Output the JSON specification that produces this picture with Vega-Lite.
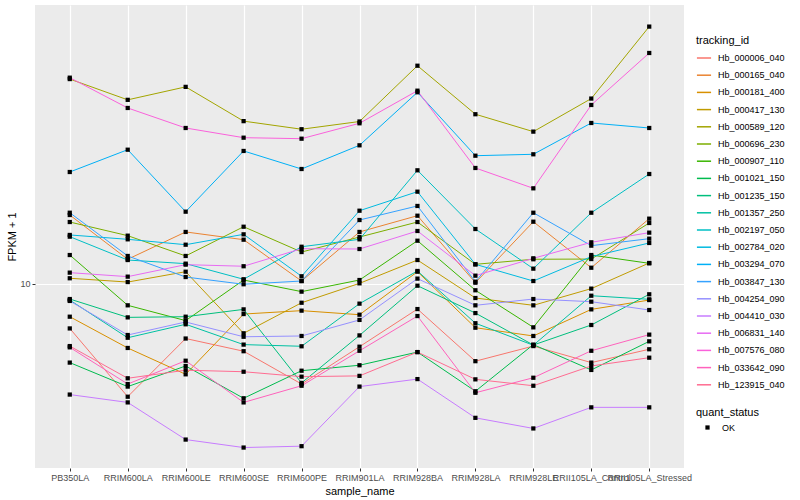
{
  "$schema": "https://vega.github.io/schema/vega-lite/v6.json",
  "width": 649,
  "height": 463,
  "autosize": {"type": "none"},
  "padding": {"left": 35, "top": 5, "right": 116, "bottom": 32},
  "background": "white",
  "config": {
    "font": "Liberation Sans",
    "view": {"fill": "#EBEBEB", "stroke": null},
    "axis": {
      "domain": false,
      "grid": true,
      "gridColor": "white",
      "gridWidth": 1.2,
      "tickColor": "#333333",
      "tickSize": 3,
      "tickWidth": 1,
      "labelColor": "#4D4D4D",
      "labelFontSize": 9,
      "labelPadding": 2,
      "titleFontSize": 11,
      "titleColor": "black",
      "titleFontWeight": "normal"
    },
    "legend": {
      "titleFontSize": 11,
      "titleFontWeight": "normal",
      "titleColor": "black",
      "labelFontSize": 9,
      "labelColor": "black",
      "padding": 0
    }
  },
  "datasets": {
    "fpkm": [
      {"tracking_id":"Hb_000006_040","sample_name":"PB350LA","fpkm":7.11,"quant_status":"OK"},
      {"tracking_id":"Hb_000006_040","sample_name":"RRIM600LA","fpkm":4.21,"quant_status":"OK"},
      {"tracking_id":"Hb_000006_040","sample_name":"RRIM600LE","fpkm":6.58,"quant_status":"OK"},
      {"tracking_id":"Hb_000006_040","sample_name":"RRIM600SE","fpkm":5.97,"quant_status":"OK"},
      {"tracking_id":"Hb_000006_040","sample_name":"RRIM600PE","fpkm":4.64,"quant_status":"OK"},
      {"tracking_id":"Hb_000006_040","sample_name":"RRIM901LA","fpkm":6.18,"quant_status":"OK"},
      {"tracking_id":"Hb_000006_040","sample_name":"RRIM928BA","fpkm":8.25,"quant_status":"OK"},
      {"tracking_id":"Hb_000006_040","sample_name":"RRIM928LA","fpkm":5.53,"quant_status":"OK"},
      {"tracking_id":"Hb_000006_040","sample_name":"RRIM928LE","fpkm":6.21,"quant_status":"OK"},
      {"tracking_id":"Hb_000006_040","sample_name":"RRII105LA_Control","fpkm":5.47,"quant_status":"OK"},
      {"tracking_id":"Hb_000006_040","sample_name":"RRII105LA_Stressed","fpkm":6.06,"quant_status":"OK"},
      {"tracking_id":"Hb_000165_040","sample_name":"PB350LA","fpkm":16.98,"quant_status":"OK"},
      {"tracking_id":"Hb_000165_040","sample_name":"RRIM600LA","fpkm":12.09,"quant_status":"OK"},
      {"tracking_id":"Hb_000165_040","sample_name":"RRIM600LE","fpkm":14.91,"quant_status":"OK"},
      {"tracking_id":"Hb_000165_040","sample_name":"RRIM600SE","fpkm":14.05,"quant_status":"OK"},
      {"tracking_id":"Hb_000165_040","sample_name":"RRIM600PE","fpkm":10.23,"quant_status":"OK"},
      {"tracking_id":"Hb_000165_040","sample_name":"RRIM901LA","fpkm":14.91,"quant_status":"OK"},
      {"tracking_id":"Hb_000165_040","sample_name":"RRIM928BA","fpkm":16.89,"quant_status":"OK"},
      {"tracking_id":"Hb_000165_040","sample_name":"RRIM928LA","fpkm":10.10,"quant_status":"OK"},
      {"tracking_id":"Hb_000165_040","sample_name":"RRIM928LE","fpkm":16.13,"quant_status":"OK"},
      {"tracking_id":"Hb_000165_040","sample_name":"RRII105LA_Control","fpkm":11.33,"quant_status":"OK"},
      {"tracking_id":"Hb_000165_040","sample_name":"RRII105LA_Stressed","fpkm":16.51,"quant_status":"OK"},
      {"tracking_id":"Hb_000181_400","sample_name":"PB350LA","fpkm":7.78,"quant_status":"OK"},
      {"tracking_id":"Hb_000181_400","sample_name":"RRIM600LA","fpkm":6.12,"quant_status":"OK"},
      {"tracking_id":"Hb_000181_400","sample_name":"RRIM600LE","fpkm":5.00,"quant_status":"OK"},
      {"tracking_id":"Hb_000181_400","sample_name":"RRIM600SE","fpkm":7.94,"quant_status":"OK"},
      {"tracking_id":"Hb_000181_400","sample_name":"RRIM600PE","fpkm":8.15,"quant_status":"OK"},
      {"tracking_id":"Hb_000181_400","sample_name":"RRIM901LA","fpkm":7.90,"quant_status":"OK"},
      {"tracking_id":"Hb_000181_400","sample_name":"RRIM928BA","fpkm":10.99,"quant_status":"OK"},
      {"tracking_id":"Hb_000181_400","sample_name":"RRIM928LA","fpkm":7.15,"quant_status":"OK"},
      {"tracking_id":"Hb_000181_400","sample_name":"RRIM928LE","fpkm":6.71,"quant_status":"OK"},
      {"tracking_id":"Hb_000181_400","sample_name":"RRII105LA_Control","fpkm":8.23,"quant_status":"OK"},
      {"tracking_id":"Hb_000181_400","sample_name":"RRII105LA_Stressed","fpkm":8.84,"quant_status":"OK"},
      {"tracking_id":"Hb_000417_130","sample_name":"PB350LA","fpkm":10.45,"quant_status":"OK"},
      {"tracking_id":"Hb_000417_130","sample_name":"RRIM600LA","fpkm":10.15,"quant_status":"OK"},
      {"tracking_id":"Hb_000417_130","sample_name":"RRIM600LE","fpkm":10.99,"quant_status":"OK"},
      {"tracking_id":"Hb_000417_130","sample_name":"RRIM600SE","fpkm":6.85,"quant_status":"OK"},
      {"tracking_id":"Hb_000417_130","sample_name":"RRIM600PE","fpkm":8.66,"quant_status":"OK"},
      {"tracking_id":"Hb_000417_130","sample_name":"RRIM901LA","fpkm":10.05,"quant_status":"OK"},
      {"tracking_id":"Hb_000417_130","sample_name":"RRIM928BA","fpkm":12.02,"quant_status":"OK"},
      {"tracking_id":"Hb_000417_130","sample_name":"RRIM928LA","fpkm":8.98,"quant_status":"OK"},
      {"tracking_id":"Hb_000417_130","sample_name":"RRIM928LE","fpkm":8.49,"quant_status":"OK"},
      {"tracking_id":"Hb_000417_130","sample_name":"RRII105LA_Control","fpkm":9.65,"quant_status":"OK"},
      {"tracking_id":"Hb_000417_130","sample_name":"RRII105LA_Stressed","fpkm":11.75,"quant_status":"OK"},
      {"tracking_id":"Hb_000589_120","sample_name":"PB350LA","fpkm":48.2,"quant_status":"OK"},
      {"tracking_id":"Hb_000589_120","sample_name":"RRIM600LA","fpkm":41.1,"quant_status":"OK"},
      {"tracking_id":"Hb_000589_120","sample_name":"RRIM600LE","fpkm":45.4,"quant_status":"OK"},
      {"tracking_id":"Hb_000589_120","sample_name":"RRIM600SE","fpkm":34.9,"quant_status":"OK"},
      {"tracking_id":"Hb_000589_120","sample_name":"RRIM600PE","fpkm":32.8,"quant_status":"OK"},
      {"tracking_id":"Hb_000589_120","sample_name":"RRIM901LA","fpkm":34.8,"quant_status":"OK"},
      {"tracking_id":"Hb_000589_120","sample_name":"RRIM928BA","fpkm":53.4,"quant_status":"OK"},
      {"tracking_id":"Hb_000589_120","sample_name":"RRIM928LA","fpkm":36.8,"quant_status":"OK"},
      {"tracking_id":"Hb_000589_120","sample_name":"RRIM928LE","fpkm":32.2,"quant_status":"OK"},
      {"tracking_id":"Hb_000589_120","sample_name":"RRII105LA_Control","fpkm":41.5,"quant_status":"OK"},
      {"tracking_id":"Hb_000589_120","sample_name":"RRII105LA_Stressed","fpkm":72.1,"quant_status":"OK"},
      {"tracking_id":"Hb_000696_230","sample_name":"PB350LA","fpkm":16.09,"quant_status":"OK"},
      {"tracking_id":"Hb_000696_230","sample_name":"RRIM600LA","fpkm":14.49,"quant_status":"OK"},
      {"tracking_id":"Hb_000696_230","sample_name":"RRIM600LE","fpkm":12.40,"quant_status":"OK"},
      {"tracking_id":"Hb_000696_230","sample_name":"RRIM600SE","fpkm":15.52,"quant_status":"OK"},
      {"tracking_id":"Hb_000696_230","sample_name":"RRIM600PE","fpkm":12.78,"quant_status":"OK"},
      {"tracking_id":"Hb_000696_230","sample_name":"RRIM901LA","fpkm":14.34,"quant_status":"OK"},
      {"tracking_id":"Hb_000696_230","sample_name":"RRIM928BA","fpkm":16.09,"quant_status":"OK"},
      {"tracking_id":"Hb_000696_230","sample_name":"RRIM928LA","fpkm":11.63,"quant_status":"OK"},
      {"tracking_id":"Hb_000696_230","sample_name":"RRIM928LE","fpkm":12.09,"quant_status":"OK"},
      {"tracking_id":"Hb_000696_230","sample_name":"RRII105LA_Control","fpkm":12.11,"quant_status":"OK"},
      {"tracking_id":"Hb_000696_230","sample_name":"RRII105LA_Stressed","fpkm":15.97,"quant_status":"OK"},
      {"tracking_id":"Hb_000907_110","sample_name":"PB350LA","fpkm":12.49,"quant_status":"OK"},
      {"tracking_id":"Hb_000907_110","sample_name":"RRIM600LA","fpkm":8.49,"quant_status":"OK"},
      {"tracking_id":"Hb_000907_110","sample_name":"RRIM600LE","fpkm":7.55,"quant_status":"OK"},
      {"tracking_id":"Hb_000907_110","sample_name":"RRIM600SE","fpkm":10.31,"quant_status":"OK"},
      {"tracking_id":"Hb_000907_110","sample_name":"RRIM600PE","fpkm":9.43,"quant_status":"OK"},
      {"tracking_id":"Hb_000907_110","sample_name":"RRIM901LA","fpkm":10.31,"quant_status":"OK"},
      {"tracking_id":"Hb_000907_110","sample_name":"RRIM928BA","fpkm":13.94,"quant_status":"OK"},
      {"tracking_id":"Hb_000907_110","sample_name":"RRIM928LA","fpkm":9.53,"quant_status":"OK"},
      {"tracking_id":"Hb_000907_110","sample_name":"RRIM928LE","fpkm":7.17,"quant_status":"OK"},
      {"tracking_id":"Hb_000907_110","sample_name":"RRII105LA_Control","fpkm":12.49,"quant_status":"OK"},
      {"tracking_id":"Hb_000907_110","sample_name":"RRII105LA_Stressed","fpkm":11.72,"quant_status":"OK"},
      {"tracking_id":"Hb_001021_150","sample_name":"PB350LA","fpkm":5.47,"quant_status":"OK"},
      {"tracking_id":"Hb_001021_150","sample_name":"RRIM600LA","fpkm":4.55,"quant_status":"OK"},
      {"tracking_id":"Hb_001021_150","sample_name":"RRIM600LE","fpkm":5.33,"quant_status":"OK"},
      {"tracking_id":"Hb_001021_150","sample_name":"RRIM600SE","fpkm":4.16,"quant_status":"OK"},
      {"tracking_id":"Hb_001021_150","sample_name":"RRIM600PE","fpkm":5.14,"quant_status":"OK"},
      {"tracking_id":"Hb_001021_150","sample_name":"RRIM901LA","fpkm":5.36,"quant_status":"OK"},
      {"tracking_id":"Hb_001021_150","sample_name":"RRIM928BA","fpkm":5.93,"quant_status":"OK"},
      {"tracking_id":"Hb_001021_150","sample_name":"RRIM928LA","fpkm":4.39,"quant_status":"OK"},
      {"tracking_id":"Hb_001021_150","sample_name":"RRIM928LE","fpkm":6.28,"quant_status":"OK"},
      {"tracking_id":"Hb_001021_150","sample_name":"RRII105LA_Control","fpkm":5.17,"quant_status":"OK"},
      {"tracking_id":"Hb_001021_150","sample_name":"RRII105LA_Stressed","fpkm":6.44,"quant_status":"OK"},
      {"tracking_id":"Hb_001235_150","sample_name":"PB350LA","fpkm":8.91,"quant_status":"OK"},
      {"tracking_id":"Hb_001235_150","sample_name":"RRIM600LA","fpkm":7.74,"quant_status":"OK"},
      {"tracking_id":"Hb_001235_150","sample_name":"RRIM600LE","fpkm":7.78,"quant_status":"OK"},
      {"tracking_id":"Hb_001235_150","sample_name":"RRIM600SE","fpkm":8.23,"quant_status":"OK"},
      {"tracking_id":"Hb_001235_150","sample_name":"RRIM600PE","fpkm":4.68,"quant_status":"OK"},
      {"tracking_id":"Hb_001235_150","sample_name":"RRIM901LA","fpkm":6.74,"quant_status":"OK"},
      {"tracking_id":"Hb_001235_150","sample_name":"RRIM928BA","fpkm":9.87,"quant_status":"OK"},
      {"tracking_id":"Hb_001235_150","sample_name":"RRIM928LA","fpkm":8.00,"quant_status":"OK"},
      {"tracking_id":"Hb_001235_150","sample_name":"RRIM928LE","fpkm":6.26,"quant_status":"OK"},
      {"tracking_id":"Hb_001235_150","sample_name":"RRII105LA_Control","fpkm":7.30,"quant_status":"OK"},
      {"tracking_id":"Hb_001235_150","sample_name":"RRII105LA_Stressed","fpkm":9.24,"quant_status":"OK"},
      {"tracking_id":"Hb_001357_250","sample_name":"PB350LA","fpkm":8.84,"quant_status":"OK"},
      {"tracking_id":"Hb_001357_250","sample_name":"RRIM600LA","fpkm":6.62,"quant_status":"OK"},
      {"tracking_id":"Hb_001357_250","sample_name":"RRIM600LE","fpkm":7.34,"quant_status":"OK"},
      {"tracking_id":"Hb_001357_250","sample_name":"RRIM600SE","fpkm":6.28,"quant_status":"OK"},
      {"tracking_id":"Hb_001357_250","sample_name":"RRIM600PE","fpkm":6.20,"quant_status":"OK"},
      {"tracking_id":"Hb_001357_250","sample_name":"RRIM901LA","fpkm":8.60,"quant_status":"OK"},
      {"tracking_id":"Hb_001357_250","sample_name":"RRIM928BA","fpkm":11.05,"quant_status":"OK"},
      {"tracking_id":"Hb_001357_250","sample_name":"RRIM928LA","fpkm":7.40,"quant_status":"OK"},
      {"tracking_id":"Hb_001357_250","sample_name":"RRIM928LE","fpkm":6.25,"quant_status":"OK"},
      {"tracking_id":"Hb_001357_250","sample_name":"RRII105LA_Control","fpkm":9.14,"quant_status":"OK"},
      {"tracking_id":"Hb_001357_250","sample_name":"RRII105LA_Stressed","fpkm":8.89,"quant_status":"OK"},
      {"tracking_id":"Hb_002197_050","sample_name":"PB350LA","fpkm":14.38,"quant_status":"OK"},
      {"tracking_id":"Hb_002197_050","sample_name":"RRIM600LA","fpkm":12.02,"quant_status":"OK"},
      {"tracking_id":"Hb_002197_050","sample_name":"RRIM600LE","fpkm":11.69,"quant_status":"OK"},
      {"tracking_id":"Hb_002197_050","sample_name":"RRIM600SE","fpkm":10.37,"quant_status":"OK"},
      {"tracking_id":"Hb_002197_050","sample_name":"RRIM600PE","fpkm":13.31,"quant_status":"OK"},
      {"tracking_id":"Hb_002197_050","sample_name":"RRIM901LA","fpkm":14.09,"quant_status":"OK"},
      {"tracking_id":"Hb_002197_050","sample_name":"RRIM928BA","fpkm":23.93,"quant_status":"OK"},
      {"tracking_id":"Hb_002197_050","sample_name":"RRIM928LA","fpkm":15.25,"quant_status":"OK"},
      {"tracking_id":"Hb_002197_050","sample_name":"RRIM928LE","fpkm":11.25,"quant_status":"OK"},
      {"tracking_id":"Hb_002197_050","sample_name":"RRII105LA_Control","fpkm":17.28,"quant_status":"OK"},
      {"tracking_id":"Hb_002197_050","sample_name":"RRII105LA_Stressed","fpkm":23.26,"quant_status":"OK"},
      {"tracking_id":"Hb_002784_020","sample_name":"PB350LA","fpkm":14.57,"quant_status":"OK"},
      {"tracking_id":"Hb_002784_020","sample_name":"RRIM600LA","fpkm":14.09,"quant_status":"OK"},
      {"tracking_id":"Hb_002784_020","sample_name":"RRIM600LE","fpkm":13.52,"quant_status":"OK"},
      {"tracking_id":"Hb_002784_020","sample_name":"RRIM600SE","fpkm":14.64,"quant_status":"OK"},
      {"tracking_id":"Hb_002784_020","sample_name":"RRIM600PE","fpkm":10.61,"quant_status":"OK"},
      {"tracking_id":"Hb_002784_020","sample_name":"RRIM901LA","fpkm":17.55,"quant_status":"OK"},
      {"tracking_id":"Hb_002784_020","sample_name":"RRIM928BA","fpkm":20.31,"quant_status":"OK"},
      {"tracking_id":"Hb_002784_020","sample_name":"RRIM928LA","fpkm":11.63,"quant_status":"OK"},
      {"tracking_id":"Hb_002784_020","sample_name":"RRIM928LE","fpkm":10.23,"quant_status":"OK"},
      {"tracking_id":"Hb_002784_020","sample_name":"RRII105LA_Control","fpkm":12.33,"quant_status":"OK"},
      {"tracking_id":"Hb_002784_020","sample_name":"RRII105LA_Stressed","fpkm":13.70,"quant_status":"OK"},
      {"tracking_id":"Hb_003294_070","sample_name":"PB350LA","fpkm":23.62,"quant_status":"OK"},
      {"tracking_id":"Hb_003294_070","sample_name":"RRIM600LA","fpkm":28.03,"quant_status":"OK"},
      {"tracking_id":"Hb_003294_070","sample_name":"RRIM600LE","fpkm":17.42,"quant_status":"OK"},
      {"tracking_id":"Hb_003294_070","sample_name":"RRIM600SE","fpkm":27.76,"quant_status":"OK"},
      {"tracking_id":"Hb_003294_070","sample_name":"RRIM600PE","fpkm":24.17,"quant_status":"OK"},
      {"tracking_id":"Hb_003294_070","sample_name":"RRIM901LA","fpkm":28.99,"quant_status":"OK"},
      {"tracking_id":"Hb_003294_070","sample_name":"RRIM928BA","fpkm":43.55,"quant_status":"OK"},
      {"tracking_id":"Hb_003294_070","sample_name":"RRIM928LA","fpkm":26.77,"quant_status":"OK"},
      {"tracking_id":"Hb_003294_070","sample_name":"RRIM928LE","fpkm":27.06,"quant_status":"OK"},
      {"tracking_id":"Hb_003294_070","sample_name":"RRII105LA_Control","fpkm":34.41,"quant_status":"OK"},
      {"tracking_id":"Hb_003294_070","sample_name":"RRII105LA_Stressed","fpkm":33.11,"quant_status":"OK"},
      {"tracking_id":"Hb_003847_130","sample_name":"PB350LA","fpkm":17.28,"quant_status":"OK"},
      {"tracking_id":"Hb_003847_130","sample_name":"RRIM600LA","fpkm":12.40,"quant_status":"OK"},
      {"tracking_id":"Hb_003847_130","sample_name":"RRIM600LE","fpkm":10.55,"quant_status":"OK"},
      {"tracking_id":"Hb_003847_130","sample_name":"RRIM600SE","fpkm":9.98,"quant_status":"OK"},
      {"tracking_id":"Hb_003847_130","sample_name":"RRIM600PE","fpkm":10.23,"quant_status":"OK"},
      {"tracking_id":"Hb_003847_130","sample_name":"RRIM901LA","fpkm":16.34,"quant_status":"OK"},
      {"tracking_id":"Hb_003847_130","sample_name":"RRIM928BA","fpkm":18.20,"quant_status":"OK"},
      {"tracking_id":"Hb_003847_130","sample_name":"RRIM928LA","fpkm":10.18,"quant_status":"OK"},
      {"tracking_id":"Hb_003847_130","sample_name":"RRIM928LE","fpkm":17.28,"quant_status":"OK"},
      {"tracking_id":"Hb_003847_130","sample_name":"RRII105LA_Control","fpkm":13.42,"quant_status":"OK"},
      {"tracking_id":"Hb_003847_130","sample_name":"RRII105LA_Stressed","fpkm":14.16,"quant_status":"OK"},
      {"tracking_id":"Hb_004254_090","sample_name":"PB350LA","fpkm":8.78,"quant_status":"OK"},
      {"tracking_id":"Hb_004254_090","sample_name":"RRIM600LA","fpkm":6.76,"quant_status":"OK"},
      {"tracking_id":"Hb_004254_090","sample_name":"RRIM600LE","fpkm":7.47,"quant_status":"OK"},
      {"tracking_id":"Hb_004254_090","sample_name":"RRIM600SE","fpkm":6.67,"quant_status":"OK"},
      {"tracking_id":"Hb_004254_090","sample_name":"RRIM600PE","fpkm":6.71,"quant_status":"OK"},
      {"tracking_id":"Hb_004254_090","sample_name":"RRIM901LA","fpkm":7.59,"quant_status":"OK"},
      {"tracking_id":"Hb_004254_090","sample_name":"RRIM928BA","fpkm":10.42,"quant_status":"OK"},
      {"tracking_id":"Hb_004254_090","sample_name":"RRIM928LA","fpkm":8.49,"quant_status":"OK"},
      {"tracking_id":"Hb_004254_090","sample_name":"RRIM928LE","fpkm":8.91,"quant_status":"OK"},
      {"tracking_id":"Hb_004254_090","sample_name":"RRII105LA_Control","fpkm":8.73,"quant_status":"OK"},
      {"tracking_id":"Hb_004254_090","sample_name":"RRII105LA_Stressed","fpkm":8.19,"quant_status":"OK"},
      {"tracking_id":"Hb_004410_030","sample_name":"PB350LA","fpkm":4.28,"quant_status":"OK"},
      {"tracking_id":"Hb_004410_030","sample_name":"RRIM600LA","fpkm":4.03,"quant_status":"OK"},
      {"tracking_id":"Hb_004410_030","sample_name":"RRIM600LE","fpkm":3.03,"quant_status":"OK"},
      {"tracking_id":"Hb_004410_030","sample_name":"RRIM600SE","fpkm":2.85,"quant_status":"OK"},
      {"tracking_id":"Hb_004410_030","sample_name":"RRIM600PE","fpkm":2.88,"quant_status":"OK"},
      {"tracking_id":"Hb_004410_030","sample_name":"RRIM901LA","fpkm":4.55,"quant_status":"OK"},
      {"tracking_id":"Hb_004410_030","sample_name":"RRIM928BA","fpkm":4.82,"quant_status":"OK"},
      {"tracking_id":"Hb_004410_030","sample_name":"RRIM928LA","fpkm":3.58,"quant_status":"OK"},
      {"tracking_id":"Hb_004410_030","sample_name":"RRIM928LE","fpkm":3.30,"quant_status":"OK"},
      {"tracking_id":"Hb_004410_030","sample_name":"RRII105LA_Control","fpkm":3.88,"quant_status":"OK"},
      {"tracking_id":"Hb_004410_030","sample_name":"RRII105LA_Stressed","fpkm":3.88,"quant_status":"OK"},
      {"tracking_id":"Hb_006831_140","sample_name":"PB350LA","fpkm":10.91,"quant_status":"OK"},
      {"tracking_id":"Hb_006831_140","sample_name":"RRIM600LA","fpkm":10.58,"quant_status":"OK"},
      {"tracking_id":"Hb_006831_140","sample_name":"RRIM600LE","fpkm":11.60,"quant_status":"OK"},
      {"tracking_id":"Hb_006831_140","sample_name":"RRIM600SE","fpkm":11.46,"quant_status":"OK"},
      {"tracking_id":"Hb_006831_140","sample_name":"RRIM600PE","fpkm":13.11,"quant_status":"OK"},
      {"tracking_id":"Hb_006831_140","sample_name":"RRIM901LA","fpkm":13.08,"quant_status":"OK"},
      {"tracking_id":"Hb_006831_140","sample_name":"RRIM928BA","fpkm":15.02,"quant_status":"OK"},
      {"tracking_id":"Hb_006831_140","sample_name":"RRIM928LA","fpkm":10.66,"quant_status":"OK"},
      {"tracking_id":"Hb_006831_140","sample_name":"RRIM928LE","fpkm":12.18,"quant_status":"OK"},
      {"tracking_id":"Hb_006831_140","sample_name":"RRII105LA_Control","fpkm":13.77,"quant_status":"OK"},
      {"tracking_id":"Hb_006831_140","sample_name":"RRII105LA_Stressed","fpkm":14.83,"quant_status":"OK"},
      {"tracking_id":"Hb_007576_080","sample_name":"PB350LA","fpkm":48.72,"quant_status":"OK"},
      {"tracking_id":"Hb_007576_080","sample_name":"RRIM600LA","fpkm":38.61,"quant_status":"OK"},
      {"tracking_id":"Hb_007576_080","sample_name":"RRIM600LE","fpkm":33.11,"quant_status":"OK"},
      {"tracking_id":"Hb_007576_080","sample_name":"RRIM600SE","fpkm":30.74,"quant_status":"OK"},
      {"tracking_id":"Hb_007576_080","sample_name":"RRIM600PE","fpkm":30.50,"quant_status":"OK"},
      {"tracking_id":"Hb_007576_080","sample_name":"RRIM901LA","fpkm":34.33,"quant_status":"OK"},
      {"tracking_id":"Hb_007576_080","sample_name":"RRIM928BA","fpkm":44.09,"quant_status":"OK"},
      {"tracking_id":"Hb_007576_080","sample_name":"RRIM928LA","fpkm":24.36,"quant_status":"OK"},
      {"tracking_id":"Hb_007576_080","sample_name":"RRIM928LE","fpkm":20.84,"quant_status":"OK"},
      {"tracking_id":"Hb_007576_080","sample_name":"RRII105LA_Control","fpkm":39.51,"quant_status":"OK"},
      {"tracking_id":"Hb_007576_080","sample_name":"RRII105LA_Stressed","fpkm":58.88,"quant_status":"OK"},
      {"tracking_id":"Hb_033642_090","sample_name":"PB350LA","fpkm":6.15,"quant_status":"OK"},
      {"tracking_id":"Hb_033642_090","sample_name":"RRIM600LA","fpkm":4.64,"quant_status":"OK"},
      {"tracking_id":"Hb_033642_090","sample_name":"RRIM600LE","fpkm":5.55,"quant_status":"OK"},
      {"tracking_id":"Hb_033642_090","sample_name":"RRIM600SE","fpkm":4.03,"quant_status":"OK"},
      {"tracking_id":"Hb_033642_090","sample_name":"RRIM600PE","fpkm":4.58,"quant_status":"OK"},
      {"tracking_id":"Hb_033642_090","sample_name":"RRIM901LA","fpkm":5.99,"quant_status":"OK"},
      {"tracking_id":"Hb_033642_090","sample_name":"RRIM928BA","fpkm":7.82,"quant_status":"OK"},
      {"tracking_id":"Hb_033642_090","sample_name":"RRIM928LA","fpkm":4.34,"quant_status":"OK"},
      {"tracking_id":"Hb_033642_090","sample_name":"RRIM928LE","fpkm":4.87,"quant_status":"OK"},
      {"tracking_id":"Hb_033642_090","sample_name":"RRII105LA_Control","fpkm":5.99,"quant_status":"OK"},
      {"tracking_id":"Hb_033642_090","sample_name":"RRII105LA_Stressed","fpkm":6.78,"quant_status":"OK"},
      {"tracking_id":"Hb_123915_040","sample_name":"PB350LA","fpkm":6.21,"quant_status":"OK"},
      {"tracking_id":"Hb_123915_040","sample_name":"RRIM600LA","fpkm":4.85,"quant_status":"OK"},
      {"tracking_id":"Hb_123915_040","sample_name":"RRIM600LE","fpkm":5.16,"quant_status":"OK"},
      {"tracking_id":"Hb_123915_040","sample_name":"RRIM600SE","fpkm":5.10,"quant_status":"OK"},
      {"tracking_id":"Hb_123915_040","sample_name":"RRIM600PE","fpkm":4.91,"quant_status":"OK"},
      {"tracking_id":"Hb_123915_040","sample_name":"RRIM901LA","fpkm":4.94,"quant_status":"OK"},
      {"tracking_id":"Hb_123915_040","sample_name":"RRIM928BA","fpkm":5.93,"quant_status":"OK"},
      {"tracking_id":"Hb_123915_040","sample_name":"RRIM928LA","fpkm":4.81,"quant_status":"OK"},
      {"tracking_id":"Hb_123915_040","sample_name":"RRIM928LE","fpkm":4.58,"quant_status":"OK"},
      {"tracking_id":"Hb_123915_040","sample_name":"RRII105LA_Control","fpkm":5.33,"quant_status":"OK"},
      {"tracking_id":"Hb_123915_040","sample_name":"RRII105LA_Stressed","fpkm":5.68,"quant_status":"OK"}
    ]
  },
  "data": {"name": "fpkm"},
  "encoding": {
    "x": {
      "field": "sample_name",
      "type": "nominal",
      "sort": ["PB350LA","RRIM600LA","RRIM600LE","RRIM600SE","RRIM600PE","RRIM901LA","RRIM928BA","RRIM928LA","RRIM928LE","RRII105LA_Control","RRII105LA_Stressed"],
      "scale": {"type": "point", "padding": 0.6},
      "axis": {"title": "sample_name", "labelAngle": 0, "labelOverlap": false, "labelBound": false, "titlePadding": 3}
    },
    "y": {
      "field": "fpkm",
      "type": "quantitative",
      "scale": {"type": "log", "domain": [2.436, 85.1], "nice": false, "zero": false},
      "axis": {"title": "FPKM + 1", "values": [10], "format": "d", "titlePadding": 2}
    }
  },
  "layer": [
    {
      "mark": {"type": "line", "strokeWidth": 1},
      "encoding": {
        "color": {
          "field": "tracking_id",
          "type": "nominal",
          "scale": {
            "domain": ["Hb_000006_040","Hb_000165_040","Hb_000181_400","Hb_000417_130","Hb_000589_120","Hb_000696_230","Hb_000907_110","Hb_001021_150","Hb_001235_150","Hb_001357_250","Hb_002197_050","Hb_002784_020","Hb_003294_070","Hb_003847_130","Hb_004254_090","Hb_004410_030","Hb_006831_140","Hb_007576_080","Hb_033642_090","Hb_123915_040"],
            "range": ["#F8766D","#EA8331","#D89000","#C09B00","#A3A500","#7CAE00","#39B600","#00BB4E","#00BF7D","#00C1A3","#00BFC4","#00BAE0","#00B0F6","#35A2FF","#9590FF","#C77CFF","#E76BF3","#FA62DB","#FF62BC","#FF6C91"]
          },
          "legend": {
            "title": "tracking_id",
            "orient": "none",
            "legendX": 661,
            "legendY": 30,
            "symbolType": "stroke",
            "symbolSize": 200,
            "symbolStrokeWidth": 1.5,
            "labelOffset": 6,
            "rowPadding": 4.2,
            "titlePadding": 4
          }
        }
      }
    },
    {
      "mark": {"type": "point", "filled": true, "color": "black", "size": 18, "opacity": 1},
      "encoding": {
        "shape": {
          "field": "quant_status",
          "type": "nominal",
          "scale": {"range": ["square"]},
          "legend": {
            "title": "quant_status",
            "orient": "none",
            "legendX": 661,
            "legendY": 402,
            "symbolSize": 18,
            "symbolFillColor": "black",
            "symbolStrokeColor": "black",
            "symbolOffset": 7,
            "labelOffset": 10,
            "titlePadding": 5
          }
        }
      }
    }
  ]
}
